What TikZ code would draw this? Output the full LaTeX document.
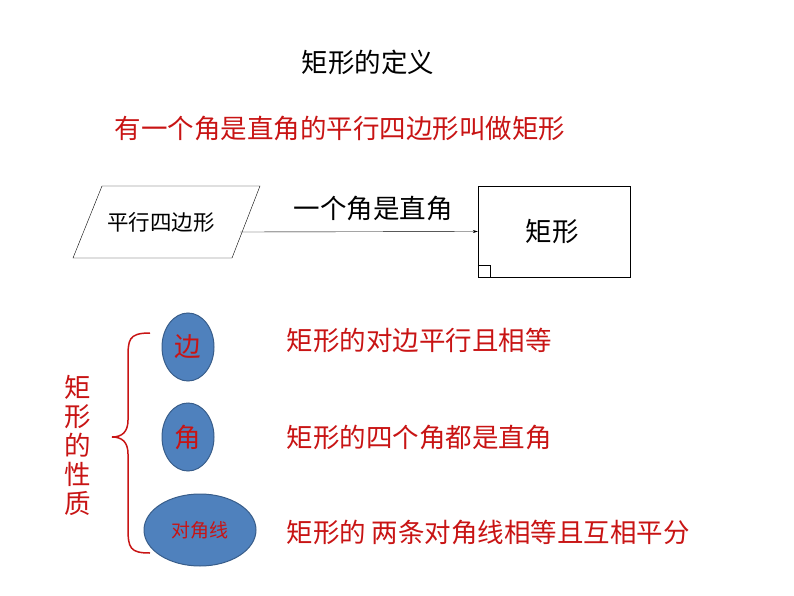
\documentclass[tikz,border=0pt]{standalone}
\usepackage{fontspec}
\setmainfont{Noto Sans CJK SC}
\usetikzlibrary{arrows.meta,shapes.geometric}
\definecolor{myred}{RGB}{200,20,20}
\definecolor{myblue}{RGB}{79,129,189}
\definecolor{myblueline}{RGB}{56,93,138}
\begin{document}
\begin{tikzpicture}[x=1pt,y=-1pt,
  big/.style={font=\fontsize{26.5}{30}\selectfont},
  mid/.style={font=\fontsize{21.5}{25}\selectfont},
  oval/.style={draw=myblueline,fill=myblue,line width=1pt},
  redtxt/.style={big,text=myred,anchor=west}]
\useasboundingbox (0,0) rectangle (794,596);
\node[big] (title) at (368,62) {矩形的定义};
\node[big,text=myred] (def) at (340,128) {有一个角是直角的平行四边形叫做矩形};
\draw (102,186) -- (260,186) -- (232,258) -- (73,258) -- cycle;
\node[mid] (para) at (161,222) {平行四边形};
\coordinate (pr) at (240,232);
\node[draw,minimum width=152,minimum height=91,inner sep=0] (rect) at (554,231.5) {};
\node[big] (rtext) at (552,232) {矩形};
\draw (rect.south west) ++(0,-12) -| ([xshift=12]rect.south west);
\draw[-{Stealth[length=5pt,width=3pt]}] (pr) -- (rect.west);
\node[big] (lab) at (373,208) {一个角是直角};
\draw[myred,line width=1.5pt] (150,333) .. controls (128,333) and (128,340) .. (128,360)
  -- (128,420) .. controls (128,432) and (122,437) .. (112,437)
  .. controls (122,437) and (128,442) .. (128,454) -- (128,528)
  .. controls (128,548) and (130,553) .. (150,553);
\node[text=myred,align=center,font=\fontsize{26.5}{29}\selectfont] (prop) at (78,445) {矩\\形\\的\\性\\质};
\node[oval,ellipse,minimum width=52,minimum height=68] (e1) at (188,347) {};
\node[big,text=myred] at (e1) {边};
\node[oval,ellipse,minimum width=52,minimum height=68] (e2) at (188,437) {};
\node[big,text=myred] at (e2) {角};
\node[oval,ellipse,minimum width=112,minimum height=72] (e3) at (200,530) {};
\node[font=\fontsize{19}{22}\selectfont,text=myred] at (e3) {对角线};
\node[redtxt] (t1) at (283,340) {矩形的对边平行且相等};
\node[redtxt] (t2) at (283,437) {矩形的四个角都是直角};
\node[redtxt] (t3) at (283,532) {矩形的 两条对角线相等且互相平分};
\end{tikzpicture}
\end{document}
